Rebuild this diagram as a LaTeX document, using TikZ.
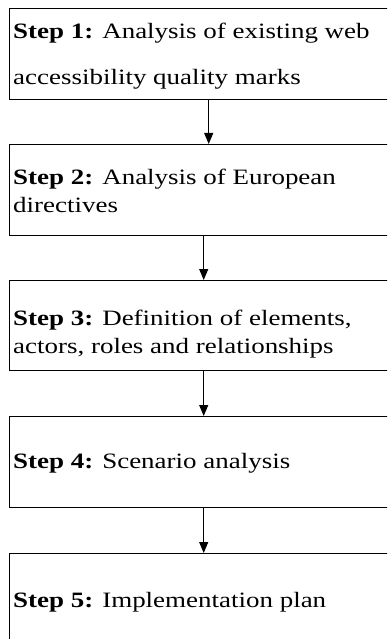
\documentclass[tikz,border=0pt]{standalone}
\usepackage{fontspec}
\setmainfont{Liberation Serif}
\usetikzlibrary{arrows.meta}
\newcommand{\widetext}[1]{\scalebox{1.23}[1]{#1}}
\begin{document}
\begin{tikzpicture}[x=1bp,y=-1bp,
  stepbox/.style={draw=black, line width=1.4bp, rectangle, inner sep=0pt,
    minimum width=398bp, minimum height=91bp, anchor=north west},
  steptext/.style={anchor=base west, inner sep=0pt, font=\fontsize{22}{26}\selectfont},
  flow/.style={draw=black, line width=1bp, -{Triangle[width=9bp,length=11bp]}}]
\useasboundingbox (0,0) rectangle (387,639);
\clip (0,0) rectangle (387,639);
% boxes
\node[stepbox] (b1) at (9,8) {};
\node[stepbox] (b2) at (9,144) {};
\node[stepbox, minimum height=90bp] (b3) at (9,280) {};
\node[stepbox] (b4) at (9,416) {};
\node[stepbox] (b5) at (9,553) {};
% labels
\node[steptext] (t1a) at (13,39) {\widetext{\textbf{Step 1:} Analysis of existing web}};
\node[steptext] (t1b) at (13,85) {\widetext{accessibility quality marks}};
\node[steptext] (t2a) at (13,185) {\widetext{\textbf{Step 2:} Analysis of European}};
\node[steptext] (t2b) at (13,212) {\widetext{directives}};
\node[steptext] (t3a) at (13,325) {\widetext{\textbf{Step 3:} Definition of elements,}};
\node[steptext] (t3b) at (13,353) {\widetext{actors, roles and relationships}};
\node[steptext] (t4) at (13,468) {\widetext{\textbf{Step 4:} Scenario analysis}};
\node[steptext] (t5) at (13,607) {\widetext{\textbf{Step 5:} Implementation plan}};
% connectors
\draw[flow] (b1.south) -- (b2.north);
\draw[flow] ([xshift=-5bp]b2.south) -- ([xshift=-5bp]b3.north);
\draw[flow] ([xshift=-5bp]b3.south) -- ([xshift=-5bp]b4.north);
\draw[flow] ([xshift=-5bp]b4.south) -- ([xshift=-5bp]b5.north);
\end{tikzpicture}
\end{document}
